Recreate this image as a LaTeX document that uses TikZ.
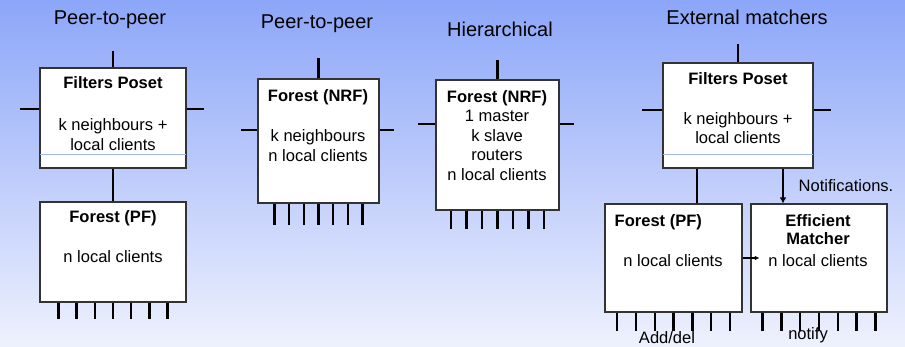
\documentclass[tikz,border=0pt]{standalone}
\usepackage{fontspec}
\setmainfont{Liberation Sans}
\usetikzlibrary{arrows.meta}
\newcommand{\px}{0.75pt}
\colorlet{box edge}{black!80}
\definecolor{bg top}{RGB}{140,166,249}
\definecolor{bg bottom}{RGB}{238,241,253}
\definecolor{poset line}{RGB}{165,185,245}
\tikzset{
  block/.style 2 args={draw=box edge, line width=0.8pt, fill=white, inner sep=0pt,
    minimum width=#1*\px, minimum height=#2*\px},
  blocktext/.style={align=center, inner sep=0pt, font=\fontsize{12.4}{14.6}\selectfont},
  heading/.style={inner sep=0pt, font=\fontsize{15}{18}\selectfont},
  stub/.style={line width=1.8pt},
  link/.style={line width=1.8pt},
  notify/.style={line width=1.5pt, -{Latex[length=4.5pt,width=5pt]}},
  feed/.style={line width=0.8pt, -{Latex[length=3.5pt,width=3.5pt]}},
  sepline/.style={draw=poset line, line width=0.6pt, shorten >=0.4pt, shorten <=0.4pt}
}
\begin{document}
\begin{tikzpicture}[x=\px, y=-\px]
    \useasboundingbox (0,0) rectangle (905,346);
    \shade[top color=bg top, bottom color=bg bottom] (0,0) rectangle (905,346);

    % headings
    \node[heading] (h1) at (110,20) {Peer-to-peer};
    \node[heading] (h2) at (317,24) {Peer-to-peer};
    \node[heading] (h3) at (500,29) {Hierarchical};
    \node[heading] (h4) at (747,17) {External matchers};

    % blocks
    \node[block={146}{100}] (p2pPoset) at (113,118) {};
    \node[block={146}{100}] (p2pForest) at (113,252) {};
    \node[block={121}{124}] (nrfForest) at (318.5,141) {};
    \node[block={123}{130}] (hierForest) at (497.5,145) {};
    \node[block={150}{105}] (extPoset) at (738,115.5) {};
    \node[block={137}{108}] (extForest) at (673.5,258) {};
    \node[block={136}{108}] (matcher) at (819,258) {};

    \node[blocktext] (p2pPosetTxt) at (113,113.5) {\textbf{Filters Poset}\\[16.9pt] k neighbours +\\ local clients};
    \node[blocktext] (p2pForestTxt) at (113,237) {\textbf{Forest (PF)}\\[15.4pt] n local clients};
    \node[blocktext] (nrfForestTxt) at (318,125.5) {\textbf{Forest (NRF)}\\[15.4pt] k neighbours\\ n local clients};
    \node[blocktext] (hierForestTxt) at (497,135.5) {\textbf{Forest (NRF)}\\ 1 master\\ k slave\\ routers\\ n local clients};
    \node[blocktext] (extPosetTxt) at (738,108) {\textbf{Filters Poset}\\[15.4pt] k neighbours +\\ local clients};
    \node[blocktext] (extForestTxt) at (673,241) {\textbf{Forest (PF)}\hspace*{22pt}\\[15.4pt] n local clients};
    \node[blocktext] (matcherTxt) at (818,241) {\textbf{Efficient}\\[-1pt]\textbf{Matcher}\\[1.9pt] n local clients};

    \foreach \blk in {p2pPoset, extPoset}
        \draw[sepline] ([yshift=10.5pt]\blk.south west) -- ([yshift=10.5pt]\blk.south east);

    % neighbour stubs
    \foreach \blk/\up/\lft/\rgt/\rise in {p2pPoset/6.75/19/17/16, nrfForest/8.25/16/14/20,
                                          hierForest/15.75/17/14/19, extPoset/4.1/20/17/18} {
        \draw[stub] (\blk.north) -- ++(0,-\rise);
        \draw[stub] ([yshift=\up pt]\blk.west) -- ++(-\lft,0);
        \draw[stub] ([yshift=\up pt]\blk.east) -- ++(\rgt,0);
    }
    % client stubs
    \foreach \blk/\gap/\len in {p2pForest/18.2/16, nrfForest/14.7/21, hierForest/15.5/18,
                                extForest/18.8/18, matcher/18.8/18}
        \foreach \k in {-3,...,3}
            \draw[stub] ([xshift=\k*\gap*\px]\blk.south) -- ++(0,\len);

    \draw[link] (p2pPoset) -- (p2pForest);
    \draw[link] ([xshift=17.6pt]extForest.north) -- ([xshift=17.6pt]extForest.north |- extPoset.south);
    \draw[notify] ([xshift=-27pt]matcher.north |- extPoset.south) --
        node[blocktext, right, xshift=11pt] (noteLbl) {Notifications.} ([xshift=-27pt]matcher.north);
    \draw[feed] (extForest.east) -- ([xshift=6.75pt]matcher.west);

    \node[blocktext] (addDel) at (667,338) {Add/del};
    \node[blocktext] (notifyLbl) at (808,335) {notify};
\end{tikzpicture}
\end{document}
